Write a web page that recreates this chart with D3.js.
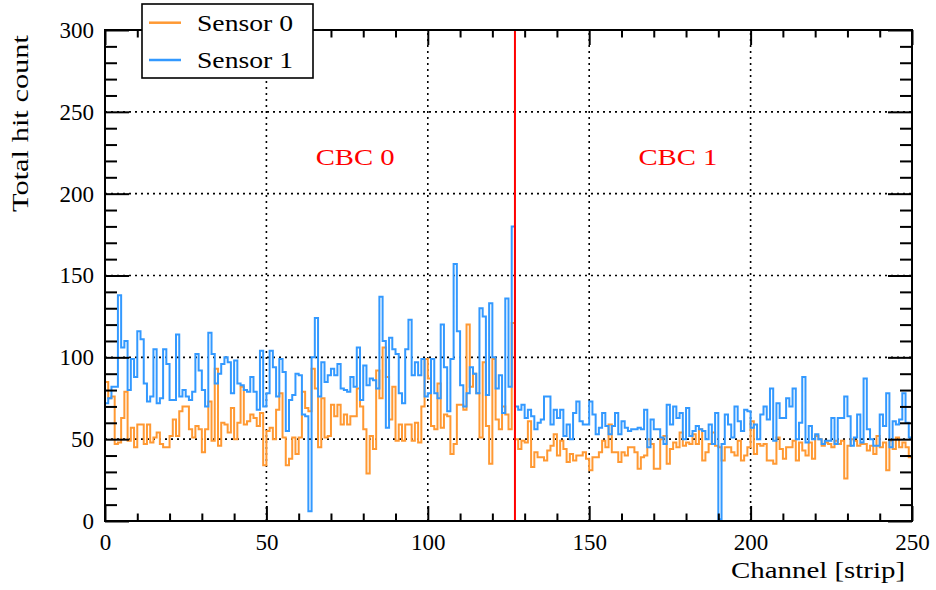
<!DOCTYPE html>
<html><head><meta charset="utf-8">
<script src="https://cdn.jsdelivr.net/npm/d3@7"></script>
<style>body{margin:0;background:#fff} text{font-family:"Liberation Serif",serif;fill:#000}</style>
</head><body><svg id="c" width="936" height="590"></svg>
<script>
const seriesNames = ["Sensor 0", "Sensor 1"];
const seriesColors = ["#ff9933", "#3399ff"];
const sensor0 = [85,75,76,47,48,63,79,49,57,45,59,59,47,59,48,51,54,47,45,45,52,62,52,67,70,
70,56,51,58,56,42,56,73,49,93,46,60,59,54,69,50,60,82,59,61,65,63,58,66,34,
55,57,50,68,78,51,34,38,51,41,51,79,69,67,93,81,45,75,51,52,71,64,71,59,65,
59,64,64,81,70,56,29,52,44,92,75,106,88,62,82,49,59,49,59,59,49,60,48,70,99,
87,58,56,84,57,65,64,41,47,71,71,68,120,82,90,78,51,97,58,35,99,62,56,70,65,
56,121,50,44,49,48,61,33,42,39,39,37,43,46,53,40,49,44,36,41,37,40,40,42,38,
31,39,39,42,49,45,59,42,42,36,42,40,45,45,42,32,39,40,50,47,32,32,50,52,35,
44,48,45,54,46,48,47,53,47,56,37,42,47,54,46,45,37,45,45,42,40,49,37,40,45,
61,41,47,46,47,37,37,35,51,44,38,45,45,49,37,48,43,40,48,38,52,50,46,48,47,
45,49,47,49,26,46,50,49,46,47,47,43,46,41,52,45,48,31,49,44,51,45,48,45,39];
const sensor1 = [72,75,82,82,138,106,110,80,99,88,116,111,84,73,76,105,72,75,105,96,74,74,114,76,80,
76,74,79,102,92,80,70,115,102,84,90,96,100,97,78,98,84,83,80,79,88,79,68,104,70,
78,104,94,76,99,91,55,74,77,90,89,65,64,6,100,124,76,97,85,89,93,89,96,81,80,
79,88,82,106,74,95,83,87,86,81,137,110,57,112,105,102,78,72,105,123,89,97,89,99,76,
78,99,78,75,120,94,67,99,157,116,83,70,78,94,90,78,130,125,77,133,100,81,89,66,136,
82,180,70,68,71,63,68,64,56,60,62,76,76,59,68,63,68,52,59,50,66,73,61,59,59,
73,65,53,57,66,58,53,58,66,53,61,57,55,56,56,57,56,68,45,62,56,56,51,47,71,
59,70,63,66,50,69,52,55,58,56,55,50,59,47,66,1,47,65,59,51,70,61,55,68,67,
57,59,50,65,70,62,81,49,72,63,63,75,70,81,50,60,88,48,58,50,53,50,47,49,49,
63,47,63,63,76,64,46,51,65,48,87,56,50,46,46,65,58,78,45,61,59,62,78,60,51];
const xTickValues = [0, 50, 100, 150, 200, 250];
const yTickValues = [0, 50, 100, 150, 200, 250, 300];
const regionNames = ["CBC 0", "CBC 1"];
const cbcBoundary = 127;

const L = 105, R = 912, T = 30, B = 521;
const svg = d3.select("#c");
const x = d3.scaleLinear().domain([0, 250]).range([L, R]);
const y = d3.scaleLinear().domain([0, 300]).range([B, T]);

svg.append("defs").append("clipPath").attr("id", "pa")
  .append("rect").attr("x", L).attr("y", T).attr("width", R - L).attr("height", B - T);

// grid
const grid = svg.append("g").attr("stroke", "#000").attr("stroke-width", 1.6).attr("stroke-dasharray", "2,4");
xTickValues.filter(d => d > 0 && d < 250).forEach(d => {
  grid.append("line").attr("x1", x(d)).attr("x2", x(d)).attr("y1", B).attr("y2", T);
});
yTickValues.filter(d => d > 0 && d < 300).forEach(d => {
  grid.append("line").attr("x1", L).attr("x2", R).attr("y1", y(d)).attr("y2", y(d));
});

// histograms
const line = d3.line().curve(d3.curveStepAfter).x(d => x(d[0])).y(d => y(d[1]));
const plot = svg.append("g").attr("clip-path", "url(#pa)");
[sensor0, sensor1].forEach((vals, k) => {
  const pts = vals.map((v, i) => [i, v]);
  pts.push([vals.length, vals[vals.length - 1]]);
  plot.append("path").attr("d", line(pts)).attr("fill", "none")
    .attr("stroke", seriesColors[k]).attr("stroke-width", 2);
});

// boundary line
svg.append("line").attr("x1", x(cbcBoundary)).attr("x2", x(cbcBoundary))
  .attr("y1", B).attr("y2", T).attr("stroke", "#ff0000").attr("stroke-width", 2);

// frame
svg.append("rect").attr("x", L).attr("y", T).attr("width", R - L).attr("height", B - T)
  .attr("fill", "none").attr("stroke", "#000").attr("stroke-width", 2);

// axes
const xMinor = d3.range(0, 251, 10).filter(d => d % 50 !== 0);
const yMinor = d3.range(0, 301, 10).filter(d => d % 50 !== 0);
function styleAxis(g) {
  g.select(".domain").remove();
  g.selectAll(".tick line").attr("stroke", "#000").attr("stroke-width", 2);
  g.selectAll("text").style("font-family", "Liberation Serif").style("font-size", "23px").attr("fill", "#000");
}
svg.append("g").attr("transform", `translate(${L},0)`)
  .call(d3.axisLeft(y).tickValues(yTickValues).tickSize(-24).tickPadding(11).tickFormat(d3.format("d"))).call(styleAxis);
svg.append("g").attr("transform", `translate(${L},0)`)
  .call(d3.axisLeft(y).tickValues(yMinor).tickSize(-12).tickFormat("")).call(styleAxis);
svg.append("g").attr("transform", `translate(${R},0)`)
  .call(d3.axisRight(y).tickValues(yTickValues).tickSize(-24).tickFormat("")).call(styleAxis);
svg.append("g").attr("transform", `translate(${R},0)`)
  .call(d3.axisRight(y).tickValues(yMinor).tickSize(-12).tickFormat("")).call(styleAxis);
svg.append("g").attr("transform", `translate(0,${B})`)
  .call(d3.axisBottom(x).tickValues(xTickValues).tickSize(-15).tickPadding(13).tickFormat(d3.format("d"))).call(styleAxis);
svg.append("g").attr("transform", `translate(0,${B})`)
  .call(d3.axisBottom(x).tickValues(xMinor).tickSize(-7.5).tickFormat("")).call(styleAxis);
svg.append("g").attr("transform", `translate(0,${T})`)
  .call(d3.axisTop(x).tickValues(xTickValues).tickSize(-15).tickFormat("")).call(styleAxis);
svg.append("g").attr("transform", `translate(0,${T})`)
  .call(d3.axisTop(x).tickValues(xMinor).tickSize(-7.5).tickFormat("")).call(styleAxis);

// titles
svg.append("text").attr("x", 905).attr("y", 578).attr("text-anchor", "end")
  .style("font-size", "24px").attr("textLength", 174).attr("lengthAdjust", "spacingAndGlyphs")
  .text("Channel [strip]");
svg.append("text").attr("transform", "translate(28,35) rotate(-90)").attr("text-anchor", "end")
  .style("font-size", "24px").attr("textLength", 177).attr("lengthAdjust", "spacingAndGlyphs")
  .text("Total hit count");

// region labels
[[77.5, regionNames[0]], [177.5, regionNames[1]]].forEach(([c, t]) => {
  svg.append("text").attr("x", x(c)).attr("y", 165).attr("text-anchor", "middle")
    .style("font-size", "24px").style("fill", "#ff0000")
    .attr("textLength", 79).attr("lengthAdjust", "spacingAndGlyphs").text(t);
});

// legend
const lg = svg.append("g");
lg.append("rect").attr("x", 142).attr("y", 4).attr("width", 171).attr("height", 74)
  .attr("fill", "#fff").attr("stroke", "#000").attr("stroke-width", 1.6);
seriesNames.forEach((n, k) => {
  const yy = 22.7 + k * 37.3;
  lg.append("line").attr("x1", 149).attr("x2", 181).attr("y1", yy).attr("y2", yy)
    .attr("stroke", seriesColors[k]).attr("stroke-width", 2.5);
  lg.append("text").attr("x", 197).attr("y", yy + 8).style("font-size", "24px")
    .attr("textLength", 96).attr("lengthAdjust", "spacingAndGlyphs").text(n);
});
</script></body></html>
